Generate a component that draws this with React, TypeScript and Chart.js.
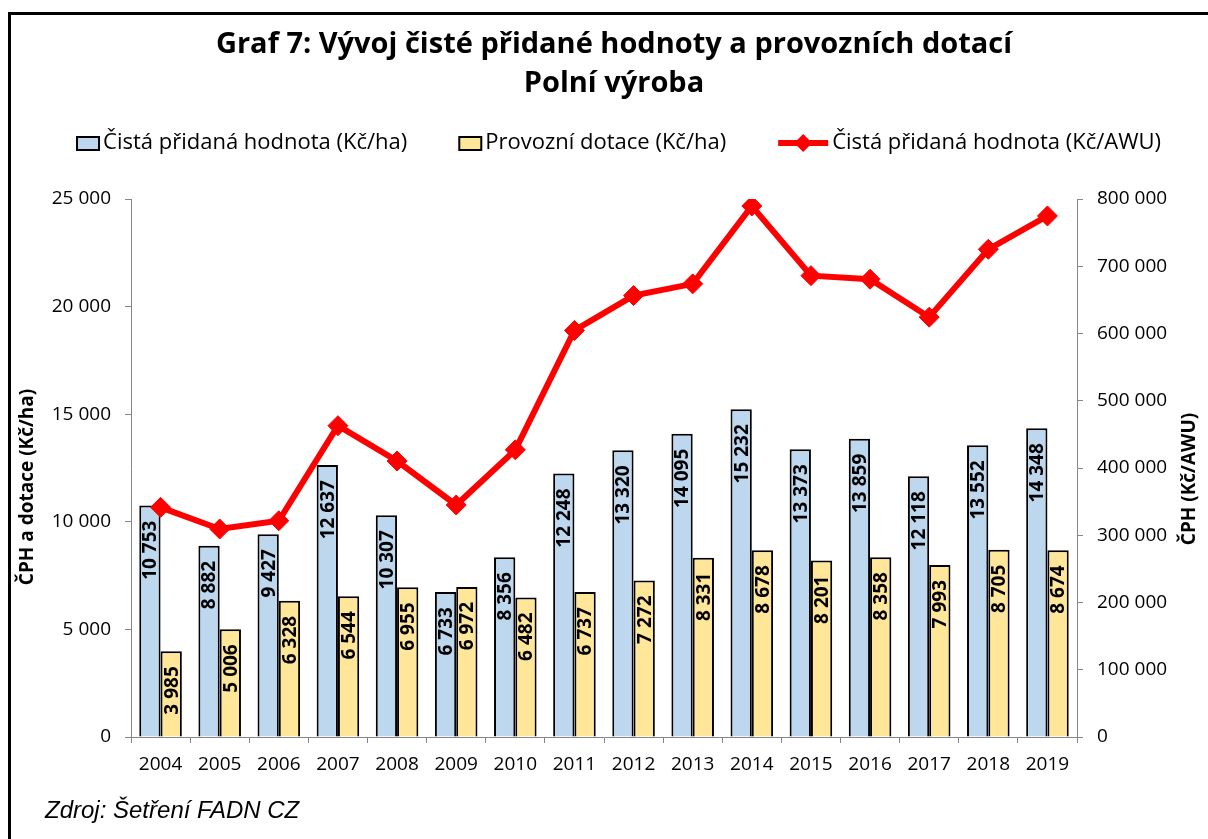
import React, { useEffect, useRef } from "react";
import { Chart, registerables } from "chart.js";

Chart.register(...registerables);

const years = ["2004", "2005", "2006", "2007", "2008", "2009", "2010", "2011", "2012", "2013", "2014", "2015", "2016", "2017", "2018", "2019"];
const cphHa = [10753, 8882, 9427, 12637, 10307, 6733, 8356, 12248, 13320, 14095, 15232, 13373, 13859, 12118, 13552, 14348];
const dotaceHa = [3985, 5006, 6328, 6544, 6955, 6972, 6482, 6737, 7272, 8331, 8678, 8201, 8358, 7993, 8705, 8674];
const cphAwu = [341500, 309300, 321600, 462900, 410400, 345000, 427000, 604500, 656400, 673800, 789600, 686000, 680700, 624300, 725200, 774800];

const titleLines = ["Graf 7: Vývoj čisté přidané hodnoty a provozních dotací", "Polní výroba"];
const seriesNames = ["Čistá přidaná hodnota (Kč/ha)", "Provozní dotace (Kč/ha)", "Čistá přidaná hodnota (Kč/AWU)"];
const leftAxisTitle = "ČPH a dotace (Kč/ha)";
const rightAxisTitle = "ČPH (Kč/AWU)";
const sourceText = "Zdroj: Šetření FADN CZ";

const BLUE = "#BDD7EE";
const YELLOW = "#FFE699";
const RED = "#FF0000";
const AXIS = "#868686";
const FONT = "'Open Sans'";

const fmt = (n: number) => Math.round(n).toString().replace(/\B(?=(\d{3})+(?!\d))/g, " ");

const decorPlugin = {
  id: "decor",
  afterDatasetDraw(chart: any, args: any) {
    const ds = chart.data.datasets[args.index];
    if (ds.type === "line") return;
    const ctx = chart.ctx;
    const meta = args.meta;
    ctx.save();
    ctx.fillStyle = "#000";
    ctx.font = `bold 19px ${FONT}`;
    ctx.textAlign = "right";
    ctx.textBaseline = "middle";
    meta.data.forEach((el: any, i: number) => {
      const v = ds.data[i];
      ctx.save();
      ctx.translate(el.x, el.y);
      ctx.rotate(-Math.PI / 2);
      ctx.fillText(fmt(v), -15, 1);
      ctx.restore();
    });
    ctx.restore();
  },
  afterDraw(chart: any) {
    const ctx = chart.ctx;
    const ca = chart.chartArea;
    ctx.save();
    // title
    ctx.fillStyle = "#000";
    ctx.textAlign = "center";
    ctx.textBaseline = "middle";
    ctx.font = `bold 29px ${FONT}`;
    ctx.fillText(titleLines[0], 606, 37);
    ctx.fillText(titleLines[1], 606, 76);

    // legend
    ctx.font = `22px ${FONT}`;
    const ly = 135;
    const gap = 52;
    const markers = [24, 24, 52];
    const widths = seriesNames.map((s, i) => markers[i] + 2 + ctx.measureText(s).width);
    const total = widths.reduce((a, b) => a + b, 0) + gap * 2;
    let x = 611 - total / 2;
    seriesNames.forEach((s, i) => {
      if (i < 2) {
        ctx.fillStyle = i === 0 ? BLUE : YELLOW;
        ctx.fillRect(x, ly - 6, 22, 13);
        ctx.lineWidth = 2;
        ctx.strokeStyle = "#000";
        ctx.strokeRect(x, ly - 6, 22, 13);
      } else {
        ctx.strokeStyle = RED;
        ctx.lineWidth = 6;
        ctx.beginPath();
        ctx.moveTo(x, ly);
        ctx.lineTo(x + 50, ly);
        ctx.stroke();
        ctx.fillStyle = RED;
        ctx.beginPath();
        ctx.moveTo(x + 25, ly - 9);
        ctx.lineTo(x + 34, ly);
        ctx.lineTo(x + 25, ly + 9);
        ctx.lineTo(x + 16, ly);
        ctx.closePath();
        ctx.fill();
      }
      ctx.fillStyle = "#000";
      ctx.textAlign = "left";
      ctx.textBaseline = "middle";
      ctx.fillText(s, x + markers[i] + 2, ly);
      x += widths[i] + gap;
    });

    // axis titles
    ctx.font = `bold 19px ${FONT}`;
    ctx.textAlign = "center";
    ctx.textBaseline = "middle";
    const cy = (ca.top + ca.bottom) / 2;
    ctx.save();
    ctx.translate(20, cy + 19);
    ctx.rotate(-Math.PI / 2);
    ctx.fillText(leftAxisTitle, 0, 0);
    ctx.restore();
    ctx.save();
    ctx.translate(1182, cy + 11);
    ctx.rotate(-Math.PI / 2);
    ctx.fillText(rightAxisTitle, 0, 0);
    ctx.restore();

    // source
    ctx.font = `italic 24px "Liberation Sans"`;
    ctx.textAlign = "left";
    ctx.fillText(sourceText, 37, 803);
    ctx.restore();
  },
};

export default function App() {
  const ref = useRef<HTMLCanvasElement>(null);
  useEffect(() => {
    if (!ref.current) return;
    const chart = new Chart(ref.current, {
      type: "bar",
      data: {
        labels: years,
        datasets: [
          {
            type: "bar",
            label: seriesNames[0],
            data: cphHa,
            backgroundColor: BLUE,
            borderColor: "#000",
            borderWidth: 2,
            yAxisID: "y",
            order: 2,
            categoryPercentage: 0.72,
            barPercentage: 1,
          } as any,
          {
            type: "bar",
            label: seriesNames[1],
            data: dotaceHa,
            backgroundColor: YELLOW,
            borderColor: "#000",
            borderWidth: 2,
            yAxisID: "y",
            order: 2,
            categoryPercentage: 0.72,
            barPercentage: 1,
          } as any,
          {
            type: "line",
            label: seriesNames[2],
            data: cphAwu,
            borderColor: RED,
            backgroundColor: RED,
            borderWidth: 6,
            pointStyle: "rectRot",
            pointRadius: 10,
            pointBorderWidth: 1,
            pointBackgroundColor: RED,
            pointBorderColor: RED,
            tension: 0,
            yAxisID: "y1",
            order: 1,
          } as any,
        ],
      },
      options: {
        responsive: false,
        animation: false,
        layout: { padding: { top: 191, bottom: 54, left: 0, right: 0 } },
        plugins: {
          legend: { display: false },
          title: { display: false },
          tooltip: { enabled: false },
        },
        scales: {
          x: {
            offset: true,
            grid: { offset: true, drawOnChartArea: false, drawTicks: true, tickLength: 6, color: AXIS },
            border: { display: true, color: AXIS, width: 1 },
            ticks: { color: "#000", font: { family: FONT, size: 19 }, padding: 10, maxRotation: 0, autoSkip: false },
            afterFit: (s: any) => { s.height = 40; },
          },
          y: {
            position: "left",
            min: 0,
            max: 25000,
            grid: { drawOnChartArea: false, drawTicks: true, tickLength: 6, color: AXIS },
            border: { display: true, color: AXIS, width: 1 },
            ticks: { stepSize: 5000, color: "#000", font: { family: FONT, size: 19 }, padding: 14, callback: (v: any) => fmt(Number(v)) },
            afterFit: (s: any) => { s.width = 123; },
          },
          y1: {
            position: "right",
            min: 0,
            max: 800000,
            grid: { drawOnChartArea: false, drawTicks: true, tickLength: 6, color: AXIS },
            border: { display: true, color: AXIS, width: 1 },
            ticks: { stepSize: 100000, color: "#000", font: { family: FONT, size: 19 }, padding: 14, callback: (v: any) => fmt(Number(v)) },
            afterFit: (s: any) => { s.width = 131; },
          },
        },
      } as any,
      plugins: [decorPlugin],
    });
    return () => chart.destroy();
  }, []);

  return (
    <div style={{ position: "relative", width: 1200, height: 823 }}>
      <div
        style={{
          position: "fixed",
          left: 8,
          top: 12,
          right: -20,
          bottom: -20,
          borderLeft: "3px solid #000",
          borderTop: "3px solid #000",
          pointerEvents: "none",
        }}
      />
      <canvas ref={ref} width={1200} height={823} style={{ position: "absolute", left: 0, top: 0, width: 1200, height: 823 }} />
    </div>
  );
}
